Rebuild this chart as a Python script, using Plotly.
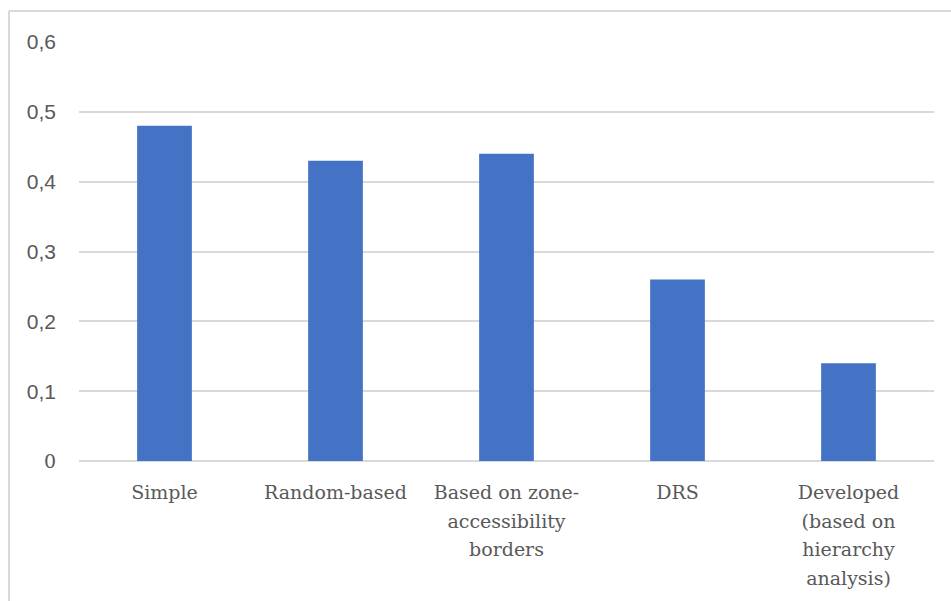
import plotly.graph_objects as go

categories = ["Simple", "Random-based", "Based on zone-<br>accessibility<br>borders", "DRS",
              "Developed<br>(based on<br>hierarchy<br>analysis)"]
values = [0.48, 0.43, 0.44, 0.26, 0.14]
y_tickvals = [0, 0.1, 0.2, 0.3, 0.4, 0.5, 0.6]
y_ticktext = ['<span style="font-family:\'DejaVu Serif\'; font-size:19px">0</span>',
              "0,1", "0,2", "0,3", "0,4", "0,5", "0,6"]

# labels drawn at a smaller glyph size, line spacing from the larger base size
x_ticktext = ["<br>".join('<span style="font-size:19px">%s</span>' % part for part in c.split("<br>"))
              for c in categories]

W, H = 951, 601
ml, mr, mt, mb = 79, 17, 42, 140
pw, ph = W - ml - mr, H - mt - mb

fig = go.Figure(go.Bar(x=categories, y=values, marker=dict(color="#4472C4", line=dict(width=0)),
                       width=0.32))

bx0 = (9 - ml) / pw
by1 = (H - 11 - mb) / ph
fig.add_shape(type="line", xref="paper", yref="paper", x0=bx0, x1=bx0, y0=by1, y1=-mb / ph - 0.05,
              line=dict(color="#d9d9d9", width=2))
fig.add_shape(type="line", xref="paper", yref="paper", x0=bx0, x1=(W - ml + 5) / pw, y0=by1, y1=by1,
              line=dict(color="#d9d9d9", width=2))

fig.update_layout(
    width=W, height=H,
    margin=dict(l=ml, r=mr, t=mt, b=mb),
    paper_bgcolor="white", plot_bgcolor="white",
    showlegend=False,
    xaxis=dict(showgrid=False, showline=False, ticks="", zeroline=False,
               tickvals=categories, ticktext=x_ticktext,
               tickfont=dict(family="DejaVu Serif", size=22, color="#595959"),
               tickangle=0, automargin=False, ticklabelstandoff=15),
    yaxis=dict(range=[0, 0.6], tickvals=y_tickvals, ticktext=y_ticktext,
               showgrid=True, gridcolor="#d9d9d9", gridwidth=1.5,
               zeroline=True, zerolinecolor="#d9d9d9", zerolinewidth=1.5,
               showline=False, ticks="", automargin=False, ticklabelstandoff=22,
               tickfont=dict(family="Liberation Sans", size=21, color="#595959")),
)

fig.write_html("out.html")
